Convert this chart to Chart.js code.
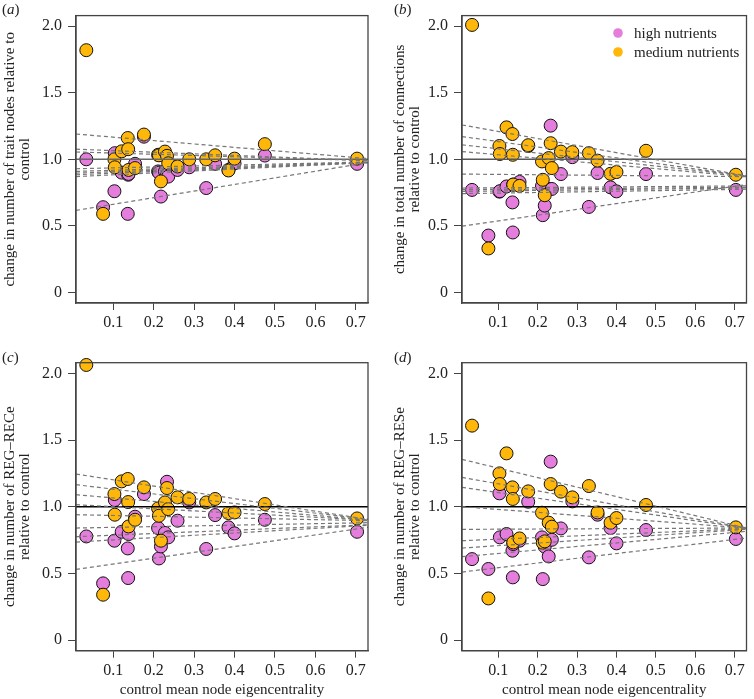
<!DOCTYPE html>
<html>
<head>
<meta charset="utf-8">
<script src="https://cdn.jsdelivr.net/npm/chart.js@4.4.1/dist/chart.umd.min.js"></script>
<style>
  body { margin: 0; background: #fff; }
  #wrap { position: relative; width: 754px; height: 699px; overflow: hidden; }
  canvas { position: absolute; }
  .lab { position: absolute; font: 15px "Liberation Serif", serif; color: #222; }
</style>
</head>
<body>
<div id="wrap">
  <canvas id="pa" width="377" height="340" style="left:0;top:0"></canvas>
  <canvas id="pb" width="377" height="340" style="left:377px;top:0"></canvas>
  <canvas id="pc" width="377" height="359" style="left:0;top:340px"></canvas>
  <canvas id="pd" width="377" height="359" style="left:377px;top:340px"></canvas>
  <div class="lab" style="left:2px;top:1px">(<i>a</i>)</div>
  <div class="lab" style="left:394px;top:1px">(<i>b</i>)</div>
  <div class="lab" style="left:2px;top:349px">(<i>c</i>)</div>
  <div class="lab" style="left:394px;top:349px">(<i>d</i>)</div>
</div>
<script>
// control mean node eigencentrality of each node
const eigen = [0.0335, 0.075, 0.103, 0.104, 0.121, 0.136, 0.137, 0.138, 0.154, 0.176, 0.211, 0.213,
               0.218, 0.228, 0.233, 0.236, 0.259, 0.288, 0.33, 0.352, 0.385, 0.40, 0.475, 0.703];

// (a) trait nodes
const aHigh = [1.0, 0.64, 0.76, 1.046, 0.90, 0.59, 0.884, 0.89, 0.966, 1.17, 0.909, 0.90,
               0.72, 0.909, 0.884, 0.87, 0.92, 0.94, 0.784, 0.966, 0.92, 0.97, 1.028, 0.966];
const aMed  = [1.82, 0.59, 1.0, 0.94, 1.06, 1.16, 1.076, 0.92, 0.934, 1.186, 1.034, 1.03,
               0.834, 1.058, 1.026, 0.97, 0.946, 1.0, 1.0, 1.03, 0.916, 1.005, 1.114, 1.005];
// (b) total connections
const bHigh = [0.77, 0.427, 0.757, 0.76, 0.796, 0.676, 0.45, 0.81, 0.83, 1.10, 0.80, 0.58,
               0.652, 0.777, 1.253, 0.777, 0.889, 1.016, 0.642, 0.897, 0.789, 0.759, 0.889, 0.77];
const bMed  = [2.01, 0.33, 1.10, 1.04, 1.24, 1.19, 1.034, 0.81, 0.80, 1.106, 0.984, 0.846,
               0.73, 1.009, 1.121, 0.934, 1.058, 1.054, 1.046, 0.99, 0.891, 0.904, 1.064, 0.884];
// (c) REG-RECe
const cHigh = [0.777, 0.425, 0.745, 1.05, 0.812, 0.687, 0.465, 0.795, 0.925, 1.095, 0.84, 0.612,
               0.702, 0.803, 1.187, 0.77, 0.895, 1.032, 0.683, 0.937, 0.845, 0.80, 0.902, 0.812];
const cMed  = [2.063, 0.34, 1.095, 0.94, 1.19, 1.208, 1.035, 0.852, 0.902, 1.145, 0.987, 0.932,
               0.745, 1.032, 1.14, 0.982, 1.07, 1.058, 1.032, 1.058, 0.952, 0.957, 1.02, 0.912];
// (d) REG-RESe
const dHigh = [0.607, 0.533, 1.10, 0.77, 0.795, 0.67, 0.47, 0.72, 0.745, 1.037, 0.77, 0.457,
               0.70, 0.627, 1.338, 0.752, 0.837, 1.04, 0.62, 0.94, 0.84, 0.725, 0.825, 0.758];
const dMed  = [1.608, 0.312, 1.25, 1.17, 1.40, 1.145, 1.058, 0.732, 0.762, 1.115, 0.955, 0.73,
               0.74, 0.88, 1.17, 0.85, 1.113, 1.07, 1.155, 0.957, 0.88, 0.915, 1.013, 0.845];

// dashed fitted lines: value at left and right end of the x range
const trendX = [0.008, 0.73];
const aTrendL = [1.19, 1.076, 1.055, 0.929, 0.909, 0.896, 0.884, 0.87, 0.616];
const aTrendR = [1.005, 0.99, 0.99, 0.98, 0.978, 0.976, 0.976, 0.975, 0.975];
const bTrendL = [1.258, 1.171, 1.109, 1.058, 0.889, 0.784, 0.772, 0.759, 0.742, 0.497];
const bTrendR = [0.875, 0.875, 0.875, 0.87, 0.87, 0.80, 0.79, 0.785, 0.775, 0.81];
const cTrendL = [1.245, 1.165, 1.09, 1.015, 0.94, 0.84, 0.775, 0.735, 0.53];
const cTrendR = [0.905, 0.905, 0.90, 0.90, 0.895, 0.88, 0.865, 0.86, 0.845];
const dTrendL = [1.355, 1.22, 1.145, 1.0, 0.83, 0.745, 0.69, 0.625, 0.51];
const dTrendR = [0.84, 0.84, 0.84, 0.84, 0.84, 0.835, 0.83, 0.815, 0.765];

const refLine = 1.0;
const xTicks = [0.1, 0.2, 0.3, 0.4, 0.5, 0.6, 0.7];
const xTickLabels = ['0.1', '0.2', '0.3', '0.4', '0.5', '0.6', '0.7'];
const yTicks = [0, 0.5, 1.0, 1.5, 2.0];
const yTickLabels = ['0', '0.5', '1.0', '1.5', '2.0'];
const seriesNames = ['high nutrients', 'medium nutrients'];

const PINK = '#E47DDC';
const ORANGE = '#FFB80A';
const FONT = '"Liberation Serif", "Times New Roman", serif';

const boxPlugin = {
  id: 'box',
  afterDraw(chart) {
    const a = chart.chartArea, ctx = chart.ctx;
    ctx.save();
    ctx.strokeStyle = '#444';
    ctx.lineWidth = 1.3;
    ctx.strokeRect(a.left, a.top, a.right - a.left, a.bottom - a.top);
    ctx.restore();
  }
};

const legendPlugin = {
  id: 'cornerLegend',
  afterDraw(chart) {
    const ctx = chart.ctx;
    const cols = [PINK, ORANGE];
    ctx.save();
    ctx.font = '15px ' + FONT;
    ctx.textBaseline = 'middle';
    seriesNames.forEach((name, i) => {
      const y = 33 + i * 19;
      ctx.fillStyle = cols[i];
      ctx.beginPath();
      ctx.arc(241, y, 4.8, 0, Math.PI * 2);
      ctx.fill();
      ctx.fillStyle = '#222';
      ctx.fillText(name, 257, y + 1);
    });
    ctx.restore();
  }
};

function pts(vals) {
  return eigen.map((x, i) => ({ x: x, y: vals[i] }));
}

function makePanel(id, p) {
  const datasets = [];
  p.trendL.forEach((l, i) => {
    datasets.push({
      data: [{ x: trendX[0], y: l }, { x: trendX[1], y: p.trendR[i] }],
      showLine: true, pointRadius: 0, borderColor: '#777', borderWidth: 1.2,
      borderDash: [4, 3]
    });
  });
  datasets.push({
    data: [{ x: trendX[0], y: refLine }, { x: trendX[1], y: refLine }],
    showLine: true, pointRadius: 0, borderColor: p.refColor, borderWidth: 1.5
  });
  datasets.push({
    label: seriesNames[1], data: pts(p.med), backgroundColor: ORANGE,
    borderColor: '#111', borderWidth: 1, pointRadius: 6.5, clip: false
  });
  datasets.push({
    label: seriesNames[0], data: pts(p.high), backgroundColor: PINK,
    borderColor: '#111', borderWidth: 1, pointRadius: 6.5, clip: false
  });

  new Chart(document.getElementById(id), {
    type: 'scatter',
    data: { datasets: datasets },
    options: {
      responsive: false,
      animation: false,
      events: [],
      layout: { padding: { left: 0, top: p.top, right: p.right, bottom: 0 } },
      plugins: { legend: { display: false }, tooltip: { enabled: false } },
      scales: {
        x: {
          type: 'linear', min: 0.008, max: 0.73,
          afterFit: s => { s.height = p.xH; },
          afterBuildTicks: s => { s.ticks = xTicks.map(v => ({ value: v })); },
          ticks: {
            autoSkip: false, maxRotation: 0, padding: 3, color: '#222',
            font: { family: FONT, size: 16, lineHeight: 1.2 },
            callback: (v, i) => xTickLabels[i]
          },
          grid: { drawOnChartArea: false, drawTicks: true, tickLength: 7, color: '#444' },
          border: { display: true, color: '#444', width: 1.3 },
          title: {
            display: !!p.xTitle, text: p.xTitle || '', color: '#222',
            font: { family: FONT, size: 15, lineHeight: 1 },
            padding: { top: 0, bottom: 1.5 }
          }
        },
        y: {
          type: 'linear', min: -0.08, max: 2.08,
          afterFit: s => { s.width = p.yW; },
          afterBuildTicks: s => { s.ticks = yTicks.map(v => ({ value: v })); },
          ticks: {
            autoSkip: false, padding: 6, color: '#222',
            font: { family: FONT, size: 16 },
            callback: (v, i) => yTickLabels[i]
          },
          grid: { drawOnChartArea: false, drawTicks: true, tickLength: 8, color: '#444' },
          border: { display: true, color: '#444', width: 1.3 },
          title: {
            display: true, text: p.yTitle, color: '#222',
            font: { family: FONT, size: 15, lineHeight: 1 },
            padding: { top: p.yTitlePad, bottom: 0 }
          }
        }
      }
    },
    plugins: p.legend ? [boxPlugin, legendPlugin] : [boxPlugin]
  });
}

makePanel('pa', {
  high: aHigh, med: aMed, trendL: aTrendL, trendR: aTrendR, refColor: '#666',
  top: 15, right: 9, yW: 76, xH: 37, yTitlePad: 2.5,
  yTitle: ['change in number of trait nodes relative to', 'control']
});
makePanel('pb', {
  high: bHigh, med: bMed, trendL: bTrendL, trendR: bTrendR, refColor: '#555',
  top: 15, right: 1, yW: 85, xH: 37, yTitlePad: 15.5, legend: true,
  yTitle: ['change in total number of connections', 'relative to control']
});
makePanel('pc', {
  high: cHigh, med: cMed, trendL: cTrendL, trendR: cTrendR, refColor: '#000',
  top: 22.7, right: 9, yW: 76, xH: 48.3, yTitlePad: 2.5,
  yTitle: ['change in number of REG\u2013RECe', 'relative to control'],
  xTitle: 'control mean node eigencentrality'
});
makePanel('pd', {
  high: dHigh, med: dMed, trendL: dTrendL, trendR: dTrendR, refColor: '#000',
  top: 22.7, right: 1, yW: 85, xH: 48.3, yTitlePad: 15.5,
  yTitle: ['change in number of REG\u2013RESe', 'relative to control'],
  xTitle: 'control mean node eigencentrality'
});
</script>
</body>
</html>
